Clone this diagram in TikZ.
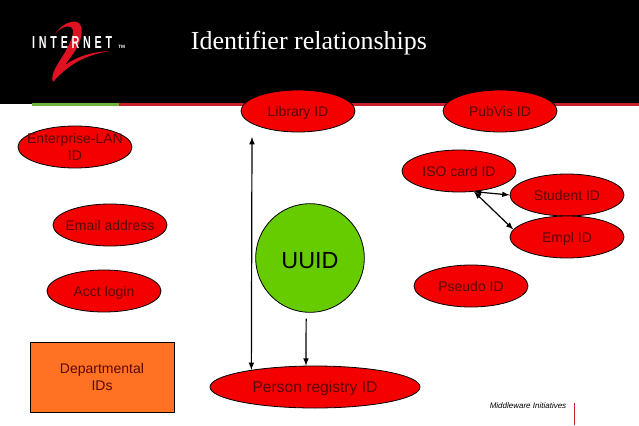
\documentclass[tikz,border=0pt]{standalone}
\usepackage{fontspec}
\setmainfont{Liberation Sans}
\newfontfamily\titlefont{Liberation Serif}
\newfontfamily\logofont[LetterSpace=35]{Liberation Sans}
\usetikzlibrary{shapes.geometric}
\definecolor{idred}{HTML}{F40000}
\definecolor{idtext}{HTML}{5A0808}
\definecolor{barred}{HTML}{C8202A}
\definecolor{logored}{HTML}{E01222}
\definecolor{bargreen}{HTML}{6CB43C}
\definecolor{uuidgreen}{HTML}{66CC00}
\definecolor{deptorange}{HTML}{FF7224}
\begin{document}
\begin{tikzpicture}[x=0.75pt, y=-0.75pt, >=latex,
    idnode/.style={ellipse, draw=black, fill=idred, text=idtext, line width=0.6pt, inner sep=0pt,
      minimum width=85.5pt, minimum height=31.5pt, text height=7.6pt, text depth=0pt,
      font=\fontsize{10.5}{12.75}\selectfont},
    idlabel/.style={text=idtext, align=center, inner sep=0pt, font=\fontsize{10.5}{12.75}\selectfont},
    idlink/.style={<->, line width=0.9pt}]
  \useasboundingbox (0, 0) rectangle (639, 425);

  % header band
  \fill[black] (0, 0) rectangle (639, 104);
  \fill[bargreen] (32, 103) rectangle (119, 106);
  \fill[barred] (119, 103) rectangle (639, 106);
  \fill[logored] (55, 34) .. controls (60, 26) and (70, 20) .. (77, 22)
    .. controls (85, 25) and (82, 40) .. (75, 51) .. controls (71, 57) and (67, 62) .. (65, 65)
    .. controls (78, 56) and (92, 52) .. (110, 51) .. controls (90, 54) and (70, 62) .. (53, 82)
    .. controls (50, 74) and (58, 64) .. (64, 54) .. controls (71, 42) and (76, 30) .. (71, 27)
    .. controls (66, 25) and (60, 28) .. (55, 34) -- cycle;
  \node[text=white, inner sep=0pt, anchor=west, xscale=0.62, font=\logofont\bfseries\fontsize{13}{13}\selectfont] (logotext) at (32, 43) {INTERNET};
  \node[text=white, inner sep=0pt, anchor=west, font=\bfseries\fontsize{3.5}{4}\selectfont] (logotm) at (118, 47) {TM};
  \node[text=white, inner sep=0pt, font=\titlefont\fontsize{19.5}{22}\selectfont] (title) at (309, 43) {Identifier relationships};

  % id nodes
  \node[idnode] (library) at (298, 111) {Library ID};
  \node[idnode] (pubvis) at (500, 111) {PubVis ID};
  \node[idnode, label={[name=entlantext, idlabel]center:Enterprise-LAN\\ID}] (entlan) at (75, 147) {};
  \node[idnode] (isocard) at (459, 171) {ISO card ID};
  \node[idnode] (student) at (567, 195) {Student ID};
  \node[idnode] (empl) at (567, 237) {Empl ID};
  \node[idnode, label={[name=emailtext, idlabel]center:Email address}] (email) at (110, 225) {};
  \node[idnode] (acct) at (104, 291) {Acct login};
  \node[idnode] (pseudo) at (471, 286) {Pseudo ID};
  \node[idnode, minimum width=157.5pt, font=\fontsize{11.7}{14}\selectfont] (person) at (315, 387) {Person registry ID};
  \node[circle, draw=black, fill=uuidgreen, line width=0.6pt, minimum size=81.5pt, inner sep=0pt, text height=15pt, text depth=0pt, font=\fontsize{17.5}{20}\selectfont] (uuid) at (310, 258) {UUID};
  \node[rectangle, draw=black, fill=deptorange, text=idtext, line width=0.6pt, minimum width=108pt, minimum height=52.5pt, align=center, font=\fontsize{10.5}{12.75}\selectfont] (dept) at (102, 377) {Departmental\\IDs};

  % links
  \coordinate (regtop) at (252, 137);
  \draw[idlink] (regtop) -- (person.165);
  \draw[->, line width=0.9pt, shorten <=4.5pt] (uuid.266) -- (person.113);
  \draw[idlink] (isocard.-54) -- (student.west);
  \draw[idlink] (isocard.-54) -- (empl.172);

  % footer
  \node[text=black, inner sep=0pt, font=\itshape\fontsize{6}{7}\selectfont] (footer) at (528, 406) {Middleware Initiatives};
  \coordinate (ruletop) at (574, 403);
  \coordinate (rulebot) at (574, 425);
  \draw[barred, line width=0.7pt] (ruletop) -- (rulebot);
\end{tikzpicture}
\end{document}
